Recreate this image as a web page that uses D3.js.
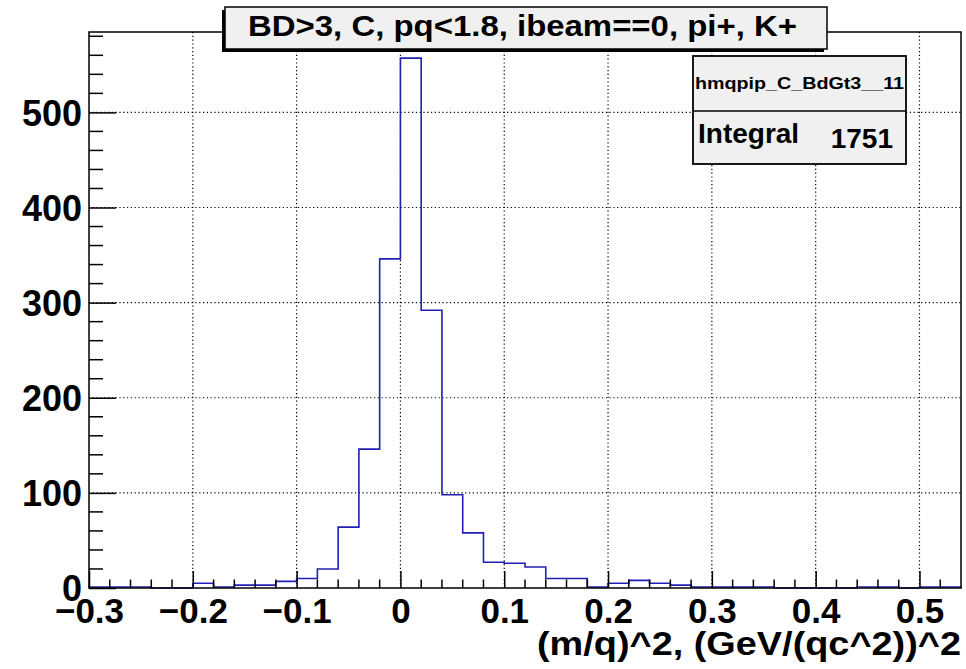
<!DOCTYPE html>
<html>
<head>
<meta charset="utf-8">
<script src="https://cdn.jsdelivr.net/npm/d3@7"></script>
<style>
  body { margin: 0; background: #fff; }
  text { font-family: "Liberation Sans", Arial, sans-serif; font-weight: bold; }
</style>
</head>
<body>
<div id="graph1"></div>
<script>
var w = 966;
var h = 669;

// histogram data, bins of 0.02 (low edges)
var binLow = [-0.30, -0.28, -0.26, -0.24, -0.22, -0.20, -0.18, -0.16, -0.14, -0.12,
              -0.10, -0.08, -0.06, -0.04, -0.02, 0.00, 0.02, 0.04, 0.06, 0.08,
              0.10, 0.12, 0.14, 0.16, 0.18, 0.20, 0.22, 0.24, 0.26, 0.28,
              0.30, 0.32, 0.34, 0.36, 0.38, 0.40, 0.42, 0.44, 0.46, 0.48,
              0.50, 0.52];
var counts = [1, 1, 1, 0, 0, 5, 1, 3, 3, 7,
              10, 20, 64, 146, 346, 557, 292, 98, 58, 27,
              26, 22, 10, 10, 1, 5, 8, 5, 3, 1,
              1, 1, 1, 0, 0, 0, 0, 1, 1, 0,
              1, 1];
var binWidth = 0.02;
var xRange = [-0.3, 0.54];
var yRange = [0, 584.5];

var xMajor = [-0.3, -0.2, -0.1, 0, 0.1, 0.2, 0.3, 0.4, 0.5];
var xMinor = [-0.28, -0.26, -0.24, -0.22, -0.18, -0.16, -0.14, -0.12, -0.08, -0.06, -0.04, -0.02,
              0.02, 0.04, 0.06, 0.08, 0.12, 0.14, 0.16, 0.18, 0.22, 0.24, 0.26, 0.28,
              0.32, 0.34, 0.36, 0.38, 0.42, 0.44, 0.46, 0.48, 0.52];
var yMajor = [0, 100, 200, 300, 400, 500];
var yMinor = [20, 40, 60, 80, 120, 140, 160, 180, 220, 240, 260, 280, 320, 340, 360, 380,
              420, 440, 460, 480, 520, 540, 560, 580];

var titleText = "BD>3, C, pq<1.8, ibeam==0, pi+, K+";
var xTitle = "(m/q)^2, (GeV/(qc^2))^2";
var histName = "hmqpip_C_BdGt3__11";
var statLabel = "Integral";
var statValue = "1751";

// frame
var fLeft = 89, fRight = 961, fTop = 32, fBottom = 588;

var svg = d3.select("#graph1")
    .append("svg")
    .attr("width", w)
    .attr("height", h);

svg.append("rect").attr("width", w).attr("height", h).attr("fill", "#fff");

var xScale = d3.scaleLinear().domain(xRange).range([fLeft, fRight]);
var yScale = d3.scaleLinear().domain(yRange).range([fBottom, fTop]);

//grid
svg.selectAll("line.gx")
    .data(xMajor.slice(1))
    .enter()
    .append("line")
    .attr("x1", function (d) { return xScale(d); })
    .attr("x2", function (d) { return xScale(d); })
    .attr("y1", fTop)
    .attr("y2", fBottom)
    .attr("stroke", "#000")
    .attr("stroke-width", 1.2)
    .attr("stroke-dasharray", "1.2,2.6");

svg.selectAll("line.gy")
    .data(yMajor.slice(1))
    .enter()
    .append("line")
    .attr("x1", fLeft)
    .attr("x2", fRight)
    .attr("y1", function (d) { return yScale(d); })
    .attr("y2", function (d) { return yScale(d); })
    .attr("stroke", "#000")
    .attr("stroke-width", 1.2)
    .attr("stroke-dasharray", "1.2,2.6");

// histogram outline
var pts = [[xScale(binLow[0]), yScale(0)]];
binLow.forEach(function (b, i) {
    pts.push([xScale(b), yScale(counts[i])]);
    pts.push([xScale(b + binWidth), yScale(counts[i])]);
});
pts.push([xScale(binLow[binLow.length - 1] + binWidth), yScale(0)]);

svg.append("path")
    .attr("d", d3.line()(pts))
    .attr("fill", "none")
    .attr("stroke", "#2020b4")
    .attr("stroke-width", 1.6);

// frame
svg.append("rect")
    .attr("x", fLeft).attr("y", fTop)
    .attr("width", fRight - fLeft).attr("height", fBottom - fTop)
    .attr("fill", "none")
    .attr("stroke", "#000")
    .attr("stroke-width", 1.5);

// x axis
var xAxis = d3.axisBottom(xScale)
    .tickValues(xMajor)
    .tickSize(-17)
    .tickFormat(function (d) { return d === 0 ? "0" : (d < 0 ? "\u2212" : "") + Math.abs(d).toFixed(1); });

var gx = svg.append("g")
    .attr("transform", "translate(0," + fBottom + ")")
    .call(xAxis);
gx.select(".domain").remove();
gx.selectAll(".tick line").attr("stroke", "#000").attr("stroke-width", 1.5);
gx.selectAll(".tick text")
    .attr("y", 35)
    .attr("dy", 0)
    .attr("font-size", "35px")
    .attr("fill", "#000");

svg.selectAll("line.xminor")
    .data(xMinor)
    .enter()
    .append("line")
    .attr("x1", function (d) { return xScale(d); })
    .attr("x2", function (d) { return xScale(d); })
    .attr("y1", fBottom)
    .attr("y2", fBottom - 8.5)
    .attr("stroke", "#000")
    .attr("stroke-width", 1.5);

// y axis
var yAxis = d3.axisLeft(yScale)
    .tickValues(yMajor)
    .tickSize(-27);

var gy = svg.append("g")
    .attr("transform", "translate(" + fLeft + ",0)")
    .call(yAxis);
gy.select(".domain").remove();
gy.selectAll(".tick line").attr("stroke", "#000").attr("stroke-width", 1.5);
gy.selectAll(".tick text")
    .attr("x", -7)
    .attr("dy", "0.36em")
    .attr("font-size", "36px")
    .attr("fill", "#000");

svg.selectAll("line.yminor")
    .data(yMinor)
    .enter()
    .append("line")
    .attr("x1", fLeft)
    .attr("x2", fLeft + 14)
    .attr("y1", function (d) { return yScale(d); })
    .attr("y2", function (d) { return yScale(d); })
    .attr("stroke", "#000")
    .attr("stroke-width", 1.5);

// axis title
svg.append("text")
    .attr("x", fRight)
    .attr("y", 655)
    .attr("text-anchor", "end")
    .attr("font-size", "34px")
    .attr("textLength", 424)
    .attr("lengthAdjust", "spacingAndGlyphs")
    .text(xTitle);

// title box, shadow bottom-left
svg.append("rect")
    .attr("x", 222).attr("y", 10).attr("width", 602).attr("height", 42)
    .attr("fill", "#000");
svg.append("rect")
    .attr("x", 225).attr("y", 7).attr("width", 602).attr("height", 42)
    .attr("fill", "#f0f0f0")
    .attr("stroke", "#000")
    .attr("stroke-width", 1.5);
svg.append("text")
    .attr("x", 248)
    .attr("y", 36)
    .attr("font-size", "30px")
    .attr("textLength", 549)
    .attr("lengthAdjust", "spacingAndGlyphs")
    .text(titleText);

// stats box
svg.append("rect")
    .attr("x", 693).attr("y", 56).attr("width", 213).attr("height", 108)
    .attr("fill", "#f0f0f0")
    .attr("stroke", "#000")
    .attr("stroke-width", 1.8);
svg.append("line")
    .attr("x1", 693).attr("x2", 906)
    .attr("y1", 111).attr("y2", 111)
    .attr("stroke", "#000")
    .attr("stroke-width", 1.5);
svg.append("text")
    .attr("x", 799.5)
    .attr("y", 89)
    .attr("text-anchor", "middle")
    .attr("font-size", "16px")
    .attr("textLength", 209)
    .attr("lengthAdjust", "spacingAndGlyphs")
    .text(histName);
svg.append("text")
    .attr("x", 698)
    .attr("y", 143)
    .attr("font-size", "28px")
    .text(statLabel);
svg.append("text")
    .attr("x", 893)
    .attr("y", 148)
    .attr("text-anchor", "end")
    .attr("font-size", "28px")
    .text(statValue);
</script>
</body>
</html>
